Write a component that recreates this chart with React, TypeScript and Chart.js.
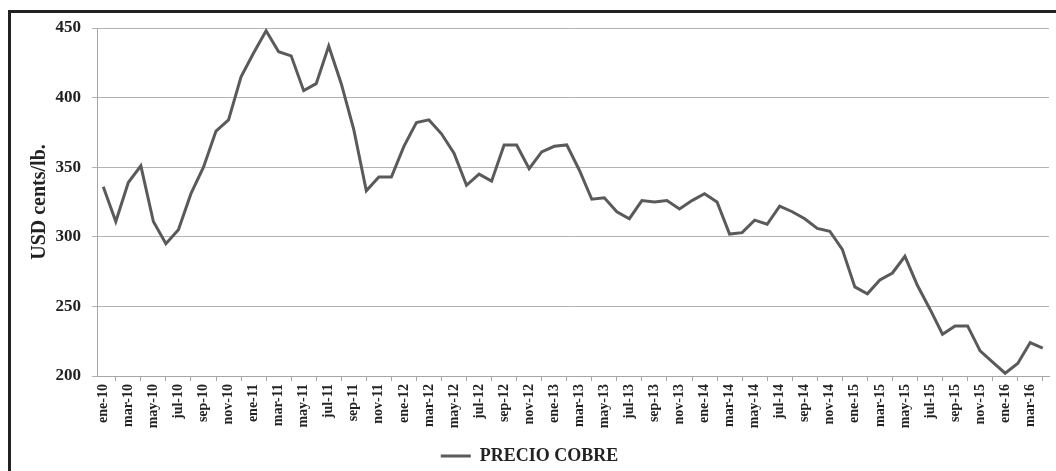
import React, { useEffect, useRef } from "react";
import { Chart, registerables } from "chart.js";

Chart.register(...registerables);

const categories = [
  "ene-10", "feb-10", "mar-10", "abr-10", "may-10", "jun-10", "jul-10", "ago-10", "sep-10", "oct-10", "nov-10", "dic-10",
  "ene-11", "feb-11", "mar-11", "abr-11", "may-11", "jun-11", "jul-11", "ago-11", "sep-11", "oct-11", "nov-11", "dic-11",
  "ene-12", "feb-12", "mar-12", "abr-12", "may-12", "jun-12", "jul-12", "ago-12", "sep-12", "oct-12", "nov-12", "dic-12",
  "ene-13", "feb-13", "mar-13", "abr-13", "may-13", "jun-13", "jul-13", "ago-13", "sep-13", "oct-13", "nov-13", "dic-13",
  "ene-14", "feb-14", "mar-14", "abr-14", "may-14", "jun-14", "jul-14", "ago-14", "sep-14", "oct-14", "nov-14", "dic-14",
  "ene-15", "feb-15", "mar-15", "abr-15", "may-15", "jun-15", "jul-15", "ago-15", "sep-15", "oct-15", "nov-15", "dic-15",
  "ene-16", "feb-16", "mar-16", "abr-16",
];

const precioCobre = [
  336, 311, 339, 351, 311, 295, 305, 331, 350, 376, 384, 415,
  432, 448, 433, 430, 405, 410, 437, 410, 377, 333, 343, 343,
  365, 382, 384, 374, 360, 337, 345, 340, 366, 366, 349, 361,
  365, 366, 348, 327, 328, 318, 313, 326, 325, 326, 320, 326,
  331, 325, 302, 303, 312, 309, 322, 318, 313, 306, 304, 291,
  264, 259, 269, 274, 286, 265, 248, 230, 236, 236, 218, 210,
  202, 209, 224, 220,
];

const yTickValues = [200, 250, 300, 350, 400, 450];

const seriesName = "PRECIO COBRE";
const yTitle = "USD cents/lb.";

export default function App() {
  const canvasRef = useRef<HTMLCanvasElement | null>(null);

  useEffect(() => {
    if (!canvasRef.current) return;
    Chart.defaults.font.family = "'Liberation Serif', 'DejaVu Serif', serif";
    const chart = new Chart(canvasRef.current, {
      type: "line",
      data: {
        labels: categories,
        datasets: [
          {
            label: seriesName,
            data: precioCobre,
            borderColor: "#5a5a5a",
            backgroundColor: "#5a5a5a",
            borderWidth: 3,
            pointRadius: 0,
            tension: 0,
          },
        ],
      },
      options: {
        animation: false,
        responsive: false,
        maintainAspectRatio: false,
        layout: { padding: { left: 10, top: 28, right: 7, bottom: -4 } },
        plugins: {
          tooltip: { enabled: false },
          legend: {
            position: "bottom",
            labels: {
              usePointStyle: true,
              pointStyle: "line",
              pointStyleWidth: 30,
              padding: 2,
              color: "#222",
              font: { size: 18, weight: "bold" },
            },
          },
        },
        scales: {
          x: {
            type: "category",
            offset: true,
            grid: {
              offset: true,
              drawOnChartArea: false,
              drawTicks: true,
              tickLength: 5,
              color: "#a6a6a6",
            },
            border: { display: true, color: "#a6a6a6", width: 1 },
            ticks: {
              autoSkip: false,
              maxRotation: 90,
              minRotation: 90,
              padding: 3,
              color: "#222",
              font: { size: 14, weight: "bold" },
              callback: (_v: any, i: number) => (i % 2 === 0 ? categories[i] : null),
            },
            afterFit: (s: any) => {
              s.height = 69;
            },
          },
          y: {
            min: 200,
            max: 450,
            afterBuildTicks: (s: any) => {
              s.ticks = yTickValues.map((v) => ({ value: v }));
            },
            ticks: {
              padding: 11,
              color: "#222",
              font: { size: 17, weight: "bold" },
            },
            grid: { color: "#b3b3b3", lineWidth: 1, tickLength: 5 },
            border: { display: true, color: "#a6a6a6", width: 1 },
            title: {
              display: true,
              text: yTitle,
              color: "#222",
              font: { size: 20, weight: "bold" },
              padding: { top: 18, bottom: 0 },
            },
            afterFit: (s: any) => {
              s.width = 87;
            },
          },
        },
      },
    });
    return () => chart.destroy();
  }, []);

  return (
    <div
      style={{
        position: "fixed",
        left: 0,
        top: 0,
        width: 1056,
        height: 471,
        overflow: "hidden",
        background: "#ffffff",
      }}
    >
      <div
        style={{
          position: "absolute",
          left: 8,
          top: 10,
          width: 1200,
          height: 700,
          borderLeft: "3px solid #222",
          borderTop: "3px solid #222",
        }}
      />
      <canvas
        ref={canvasRef}
        width={1056}
        height={471}
        style={{ position: "absolute", left: 0, top: 0, display: "block" }}
      />
    </div>
  );
}
